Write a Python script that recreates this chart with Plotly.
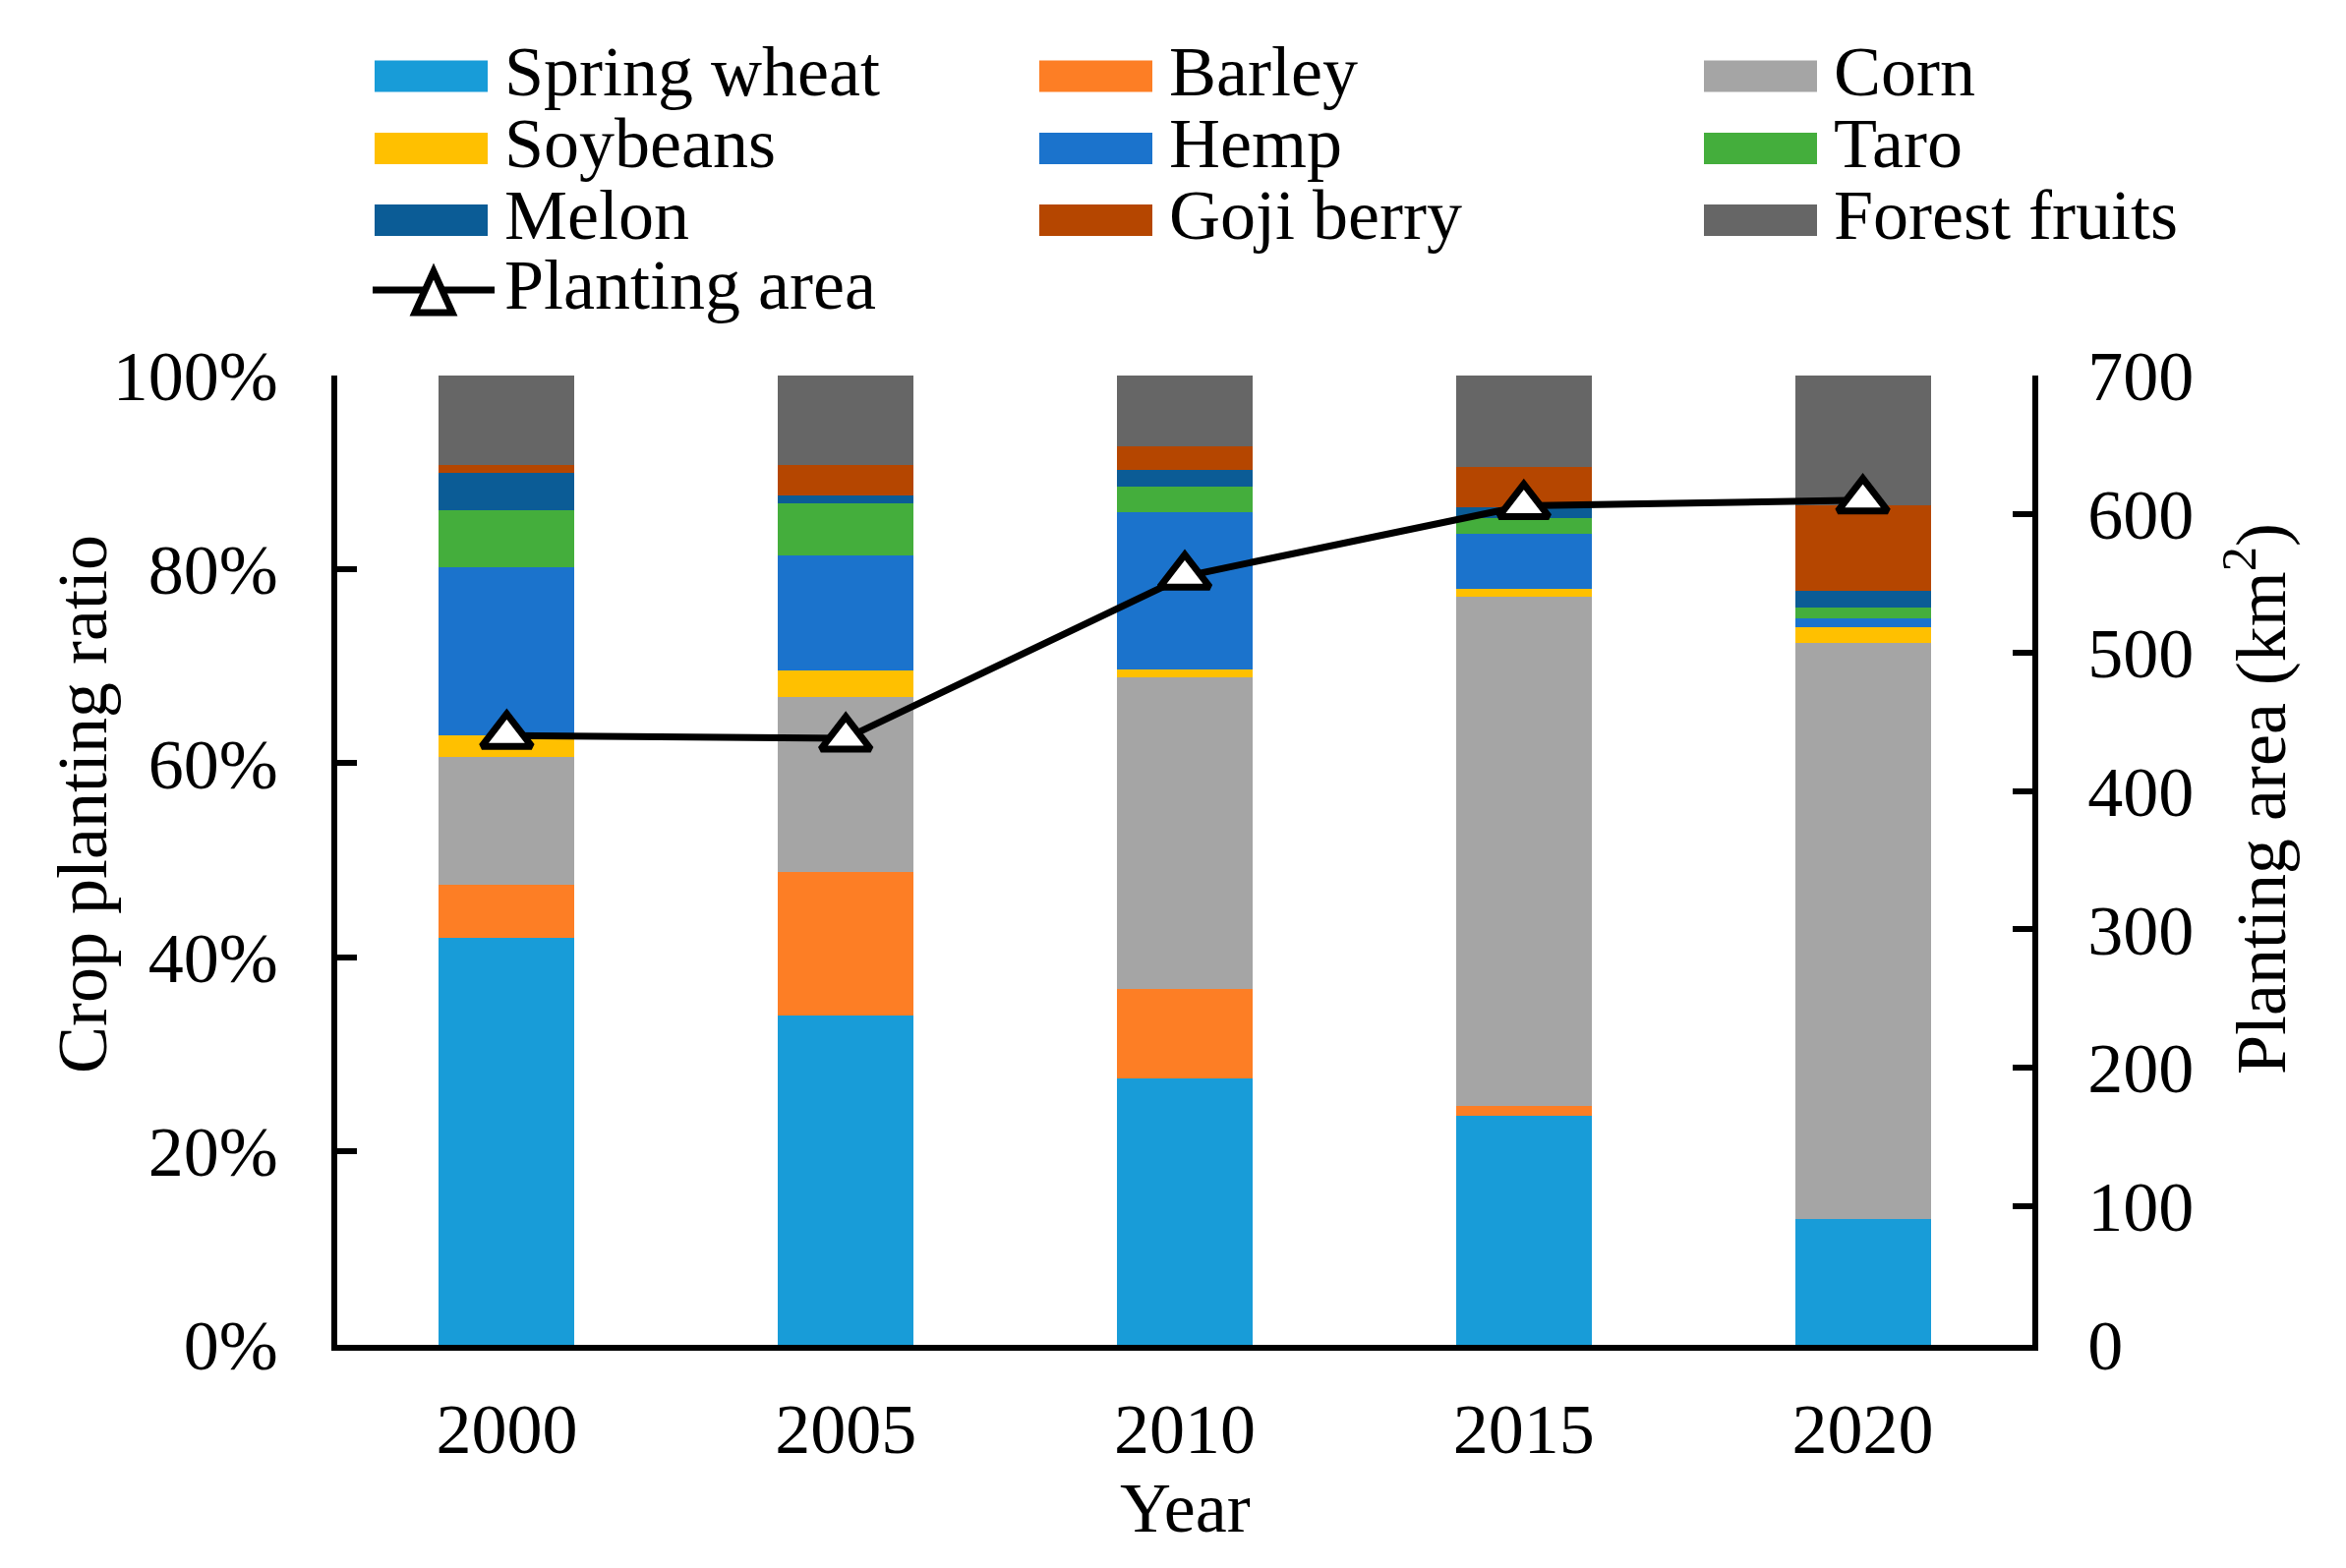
import plotly.graph_objects as go

years = ["2000", "2005", "2010", "2015", "2020"]

spring_wheat = [42.0, 34.0, 27.5, 23.6, 13.0]
barley       = [5.5, 14.8, 9.2, 1.0, 0.0]
corn         = [13.2, 18.0, 32.2, 52.6, 59.4]
soybeans     = [2.2, 2.8, 0.8, 0.8, 1.6]
hemp         = [17.3, 11.8, 16.2, 5.7, 0.9]
taro         = [5.9, 5.4, 2.6, 1.6, 1.2]
melon        = [3.9, 0.8, 1.8, 1.1, 1.7]
goji_berry   = [0.8, 3.2, 2.4, 4.2, 8.8]
forest_fruits = [9.2, 9.2, 7.3, 9.4, 13.4]

planting_area = [440, 438, 555, 606, 610]

series = [
    ("Spring wheat", spring_wheat, "#189CD8"),
    ("Barley", barley, "#FD7E25"),
    ("Corn", corn, "#A5A5A5"),
    ("Soybeans", soybeans, "#FFC000"),
    ("Hemp", hemp, "#1B73CC"),
    ("Taro", taro, "#44AE3C"),
    ("Melon", melon, "#0B5C96"),
    ("Goji berry", goji_berry, "#B54600"),
    ("Forest fruits", forest_fruits, "#666666"),
]

FONT = "Liberation Serif, Times New Roman, serif"
FS = 72
OFF = 8  # page body margin
W, H = 2386 - 2 * OFF, 1595 - 2 * OFF
# plot area in reference-image pixels
L, R, T, B = 343, 2067, 382, 1368
LW = 5.5


def px2x(px):
    return (px - L) / (R - L)


def py2y(py):
    return (B - py) / (B - T)


fig = go.Figure()
for name, vals, col in series:
    fig.add_trace(go.Bar(x=years, y=vals, name=name, marker=dict(color=col, line=dict(width=0)),
                         showlegend=False))

fig.add_trace(go.Scatter(x=years, y=planting_area, name="Planting area", yaxis="y2",
                         mode="lines+markers", showlegend=False,
                         line=dict(color="black", width=7),
                         marker=dict(symbol="triangle-up", size=44, color="white",
                                     line=dict(color="black", width=7))))

fig.update_layout(
    width=W, height=H,
    margin=dict(l=L - OFF, r=W - (R - OFF), t=T - OFF, b=H - (B - OFF), pad=0),
    paper_bgcolor="white", plot_bgcolor="white",
    barmode="stack", bargap=0.6,
    font=dict(family=FONT, size=FS, color="black"),
    showlegend=False,
    xaxis=dict(showline=True, linecolor="black", linewidth=LW, ticks="",
               showgrid=False, tickfont=dict(size=FS), ticklabelstandoff=18),
    yaxis=dict(range=[0, 100], dtick=20, ticksuffix="%", showline=True, linecolor="black",
               linewidth=LW, ticks="inside", ticklen=20, tickwidth=LW, tickcolor="black",
               showgrid=False, zeroline=False, ticklabelstandoff=40),
    yaxis2=dict(range=[0, 700], dtick=100, overlaying="y", side="right", showline=True,
                linecolor="black", linewidth=LW, ticks="inside", ticklen=20, tickwidth=LW,
                tickcolor="black", showgrid=False, zeroline=False, ticklabelstandoff=36),
)

annotations = [
    dict(text="Year", x=0.5, y=py2y(1534), xref="paper", yref="paper",
         xanchor="center", yanchor="middle", showarrow=False, font=dict(size=FS)),
    dict(text="Crop planting ratio", x=px2x(84), y=py2y(818), xref="paper", yref="paper",
         xanchor="center", yanchor="middle", textangle=-90, showarrow=False, font=dict(size=FS)),
    dict(text="Planting area (km<sup>2</sup>)", x=px2x(2294), y=py2y(813), xref="paper",
         yref="paper", xanchor="center", yanchor="middle", textangle=-90, showarrow=False,
         font=dict(size=FS)),
]

shapes = []
col_x = [381, 1057, 1733]
row_y = [77.5, 151, 224]
for i, (name, vals, col) in enumerate(series):
    r, c = divmod(i, 3)
    x0 = col_x[c]
    yc = row_y[r]
    shapes.append(dict(type="rect", xref="paper", yref="paper",
                       x0=px2x(x0), x1=px2x(x0 + 115), y0=py2y(yc + 16), y1=py2y(yc - 16),
                       fillcolor=col, line=dict(width=0)))
    annotations.append(dict(text=name, x=px2x(x0 + 130), y=py2y(yc - 5), xref="paper",
                            yref="paper", xanchor="left", yanchor="middle", showarrow=False,
                            font=dict(size=FS)))

# Planting area legend entry
ly = 295
shapes.append(dict(type="line", xref="paper", yref="paper", x0=px2x(379), x1=px2x(503),
                   y0=py2y(ly), y1=py2y(ly), line=dict(color="black", width=7)))
shapes.append(dict(type="path", xref="paper", yref="paper", xsizemode="pixel", ysizemode="pixel",
                   xanchor=px2x(441), yanchor=py2y(ly),
                   path="M-19,-23 L19,-23 L0,19 Z", fillcolor="white",
                   line=dict(color="black", width=7)))
annotations.append(dict(text="Planting area", x=px2x(511), y=py2y(ly - 5), xref="paper",
                        yref="paper", xanchor="left", yanchor="middle", showarrow=False,
                        font=dict(size=FS)))

fig.update_layout(annotations=annotations, shapes=shapes)
fig.write_html("out.html")
